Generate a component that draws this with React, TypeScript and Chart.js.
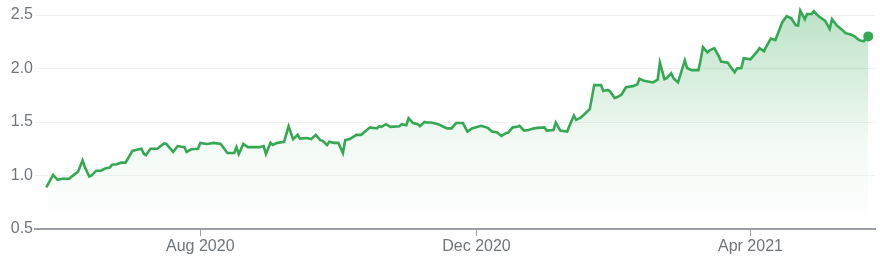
import React, { useEffect, useRef } from "react";
import { Chart, registerables } from "chart.js";

Chart.register(...registerables);

// Day offsets relative to 1 Aug 2020
const BASE_DATE = "2020-08-01";
const dayOffsets = [
  -68, -65, -63, -61, -58, -55, -54, -52, -51, -49, -48, -46, -44, -42, -40, -39, -37, -35, -33, -30,
  -28, -26, -25, -24, -22, -19, -16, -15, -12, -10, -7, -6, -4, -1, 0, 3, 6, 9, 12, 15,
  16, 17, 19, 21, 26, 28, 29, 31, 32, 34, 37, 39, 41, 43, 44, 47, 49, 51, 53, 54,
  56, 57, 59, 61, 63, 64, 66, 69, 71, 75, 78, 79, 80, 82, 84, 88, 89, 91, 92, 94,
  96, 97, 99, 100, 102, 105, 107, 109, 111, 113, 116, 118, 120, 124, 127, 129, 131, 133, 135, 136,
  138, 140, 141, 143, 145, 147, 149, 152, 153, 156, 157, 159, 162, 165, 166, 168, 170, 172, 174, 177,
  178, 180, 181, 183, 184, 186, 188, 191, 193, 194, 196, 200, 202, 203, 205, 206, 208, 209, 211, 214,
  215, 217, 220, 221, 222, 224, 225, 227, 229, 230, 233, 234, 236, 237, 239, 240, 243, 246, 247, 249,
  250, 252, 254, 257, 259, 261, 263, 264, 265, 267, 268, 270, 271, 273, 275, 276, 278, 279, 281, 283,
  285, 287, 289, 291, 293, 295,
];
const prices = [
  0.89, 1.005, 0.96, 0.97, 0.97, 1.02, 1.035, 1.14, 1.08, 0.99, 1.0, 1.045, 1.045, 1.065, 1.075, 1.1, 1.105, 1.12, 1.12, 1.23,
  1.24, 1.25, 1.205, 1.19, 1.25, 1.25, 1.3, 1.295, 1.22, 1.275, 1.265, 1.22, 1.245, 1.25, 1.305, 1.295, 1.305, 1.295, 1.21, 1.21,
  1.265, 1.2, 1.295, 1.265, 1.265, 1.275, 1.2, 1.305, 1.285, 1.305, 1.315, 1.46, 1.34, 1.38, 1.345, 1.35, 1.34, 1.38, 1.33, 1.325,
  1.285, 1.315, 1.305, 1.305, 1.21, 1.33, 1.34, 1.38, 1.38, 1.45, 1.44, 1.46, 1.455, 1.48, 1.455, 1.46, 1.48, 1.47, 1.535, 1.49,
  1.48, 1.46, 1.5, 1.495, 1.495, 1.48, 1.46, 1.44, 1.44, 1.49, 1.49, 1.41, 1.44, 1.465, 1.445, 1.41, 1.405, 1.37, 1.395, 1.4,
  1.45, 1.455, 1.465, 1.42, 1.425, 1.44, 1.445, 1.45, 1.42, 1.425, 1.495, 1.42, 1.41, 1.56, 1.52, 1.54, 1.58, 1.62, 1.845, 1.845,
  1.79, 1.8, 1.785, 1.725, 1.73, 1.755, 1.825, 1.835, 1.85, 1.905, 1.885, 1.87, 1.895, 2.055, 1.9, 1.91, 1.955, 1.91, 1.87, 2.075,
  2.005, 1.985, 1.985, 2.08, 2.2, 2.15, 2.17, 2.19, 2.115, 2.065, 2.055, 2.02, 1.965, 2.0, 2.005, 2.095, 2.085, 2.16, 2.19, 2.16,
  2.205, 2.28, 2.265, 2.43, 2.49, 2.47, 2.405, 2.4, 2.54, 2.46, 2.51, 2.51, 2.535, 2.49, 2.46, 2.445, 2.37, 2.46, 2.405, 2.37,
  2.33, 2.32, 2.3, 2.265, 2.255, 2.3,
];

const tickDays = [0, 122, 243];
const tickLabels = ["Aug 2020", "Dec 2020", "Apr 2021"];
const yTicks = [0.5, 1.0, 1.5, 2.0, 2.5];

const GREEN = "#34a853";

export default function App() {
  const ref = useRef<HTMLCanvasElement | null>(null);

  useEffect(() => {
    document.body.style.margin = "0";
    const canvas = ref.current;
    if (!canvas) return;
    const data = dayOffsets.map((d, i) => ({ x: d, y: prices[i] }));
    const last = data.length - 1;
    const chart = new Chart(canvas, {
      type: "line",
      data: {
        datasets: [
          {
            label: BASE_DATE,
            data,
            borderColor: GREEN,
            borderWidth: 2.6,
            tension: 0,
            clip: false,
            fill: "start",
            backgroundColor: (ctx: any) => {
              const area = ctx.chart.chartArea;
              if (!area) return "rgba(52,168,83,0.2)";
              const g = ctx.chart.ctx.createLinearGradient(0, area.top, 0, area.bottom);
              g.addColorStop(0, "rgba(52,168,83,0.32)");
              g.addColorStop(0.6, "rgba(52,168,83,0.06)");
              g.addColorStop(1, "rgba(52,168,83,0)");
              return g;
            },
            pointRadius: (ctx: any) => (ctx.dataIndex === last ? 5 : 0),
            pointBackgroundColor: GREEN,
            pointBorderColor: GREEN,
            pointBorderWidth: 0,
            pointHoverRadius: 0,
          },
        ],
      },
      options: {
        animation: false,
        responsive: false,
        devicePixelRatio: 1,
        layout: { padding: { top: 15, right: 5, left: 0, bottom: 0 } },
        plugins: { legend: { display: false }, tooltip: { enabled: false } },
        events: [],
        scales: {
          x: {
            type: "linear",
            min: -73,
            max: 298,
            afterBuildTicks: (axis: any) => {
              axis.ticks = tickDays.map((v) => ({ value: v }));
            },
            afterFit: (scale: any) => {
              scale.height = 36;
            },
            ticks: {
              autoSkip: false,
              maxRotation: 0,
              padding: 1,
              color: "#70757a",
              font: { family: "'Liberation Sans', Arial, sans-serif", size: 16 },
              callback: (v: any) => {
                const i = tickDays.indexOf(Number(v));
                return i >= 0 ? tickLabels[i] : "";
              },
            },
            grid: {
              drawOnChartArea: false,
              drawTicks: true,
              tickLength: 7,
              color: "#9aa0a6",
              lineWidth: 1,
            },
            border: { display: true, color: "#9aa0a6", width: 2 },
          },
          y: {
            min: 0.5,
            max: 2.5,
            afterBuildTicks: (axis: any) => {
              axis.ticks = yTicks.map((v) => ({ value: v }));
            },
            afterFit: (scale: any) => {
              scale.width = 35;
            },
            ticks: {
              padding: 2,
              color: "#70757a",
              font: { family: "'Liberation Sans', Arial, sans-serif", size: 16 },
              callback: (v: any) => Number(v).toFixed(1),
            },
            grid: { color: "#f1f1f1", lineWidth: 1, drawTicks: false },
            border: { display: false },
          },
        },
      },
    } as any);
    return () => chart.destroy();
  }, []);

  return (
    <div style={{ position: "absolute", left: 0, top: 0, width: 880, height: 265, background: "#fff" }}>
      <canvas ref={ref} width={880} height={265} style={{ width: 880, height: 265, display: "block" }} />
    </div>
  );
}
